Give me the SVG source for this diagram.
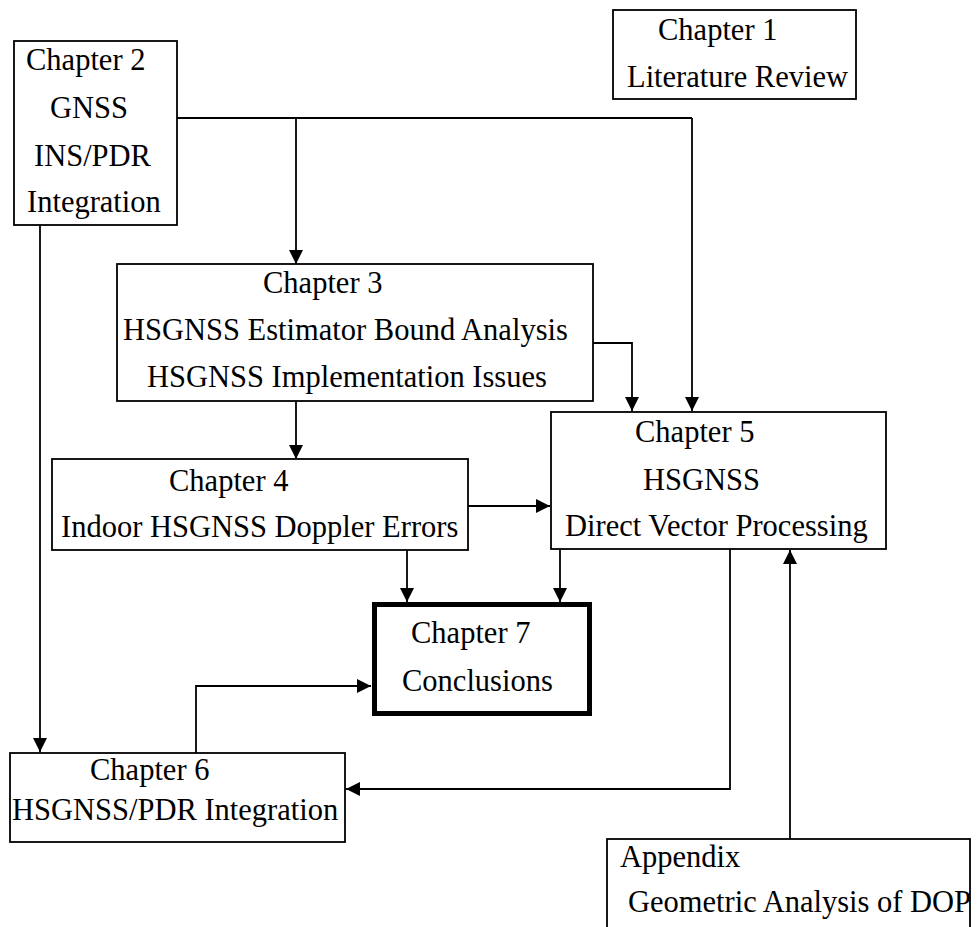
<svg xmlns="http://www.w3.org/2000/svg" width="979" height="927" viewBox="0 0 979 927">
  <defs>
    <marker id="arrow" markerUnits="userSpaceOnUse" markerWidth="15" markerHeight="15" refX="14" refY="7" orient="auto">
      <path d="M0,0 L14,7 L0,14 z" fill="#000"/>
    </marker>
    <style>
      .box { fill: #fff; stroke: #000; stroke-width: 1.8; }
      .bold { fill: #fff; stroke: #000; stroke-width: 5; }
      .lbl { font-family: "Liberation Serif", "Times New Roman", serif; font-size: 30.5px; fill: #000; }
      .conn { fill: none; stroke: #000; stroke-width: 1.8; }
      .arr { marker-end: url(#arrow); }
    </style>
  </defs>
  <rect width="979" height="927" fill="#fff"/>

  <!-- connectors -->
  <g id="connectors">
    <line class="conn" x1="177" y1="118" x2="692" y2="118"/>
    <line class="conn arr" x1="296" y1="118" x2="296" y2="264"/>
    <line class="conn arr" x1="692" y1="118" x2="692" y2="411"/>
    <polyline class="conn arr" points="593,343 632,343 632,411"/>
    <line class="conn arr" x1="296" y1="401" x2="296" y2="459"/>
    <line class="conn arr" x1="468" y1="506" x2="550" y2="506"/>
    <line class="conn arr" x1="407" y1="550" x2="407" y2="602"/>
    <line class="conn arr" x1="560" y1="549" x2="560" y2="602"/>
    <line class="conn arr" x1="40" y1="225" x2="40" y2="752"/>
    <polyline class="conn arr" points="196,753 196,686 371,686"/>
    <polyline class="conn arr" points="730,549 730,789 346,789"/>
    <line class="conn arr" x1="790" y1="839" x2="790" y2="550"/>
  </g>

  <g id="chapter1">
    <rect class="box" x="613" y="10" width="243" height="89"/>
    <text class="lbl" x="658" y="40">Chapter 1</text>
    <text class="lbl" x="627" y="87">Literature Review</text>
  </g>

  <g id="chapter2">
    <rect class="box" x="14" y="41" width="163" height="184"/>
    <text class="lbl" x="26" y="70">Chapter 2</text>
    <text class="lbl" x="50" y="118">GNSS</text>
    <text class="lbl" x="34" y="166">INS/PDR</text>
    <text class="lbl" x="27" y="212">Integration</text>
  </g>

  <g id="chapter3">
    <rect class="box" x="117" y="264" width="476" height="137"/>
    <text class="lbl" x="263" y="293">Chapter 3</text>
    <text class="lbl" x="123" y="340">HSGNSS Estimator Bound Analysis</text>
    <text class="lbl" x="147" y="387">HSGNSS Implementation Issues</text>
  </g>

  <g id="chapter4">
    <rect class="box" x="52" y="459" width="416" height="91"/>
    <text class="lbl" x="169" y="491">Chapter 4</text>
    <text class="lbl" x="61" y="537">Indoor HSGNSS Doppler Errors</text>
  </g>

  <g id="chapter5">
    <rect class="box" x="551" y="412" width="335" height="137"/>
    <text class="lbl" x="635" y="442">Chapter 5</text>
    <text class="lbl" x="643" y="490">HSGNSS</text>
    <text class="lbl" x="565" y="536">Direct Vector Processing</text>
  </g>

  <g id="chapter6">
    <rect class="box" x="10" y="753" width="335" height="89"/>
    <text class="lbl" x="90" y="780">Chapter 6</text>
    <text class="lbl" x="12" y="820">HSGNSS/PDR Integration</text>
  </g>

  <g id="chapter7">
    <rect class="bold" x="374.5" y="604.5" width="215" height="109"/>
    <text class="lbl" x="411" y="643">Chapter 7</text>
    <text class="lbl" x="402" y="691">Conclusions</text>
  </g>

  <g id="appendix">
    <rect class="box" x="607" y="839" width="363" height="100"/>
    <text class="lbl" x="620" y="867">Appendix</text>
    <text class="lbl" x="628" y="912">Geometric Analysis of DOP</text>
  </g>
</svg>
